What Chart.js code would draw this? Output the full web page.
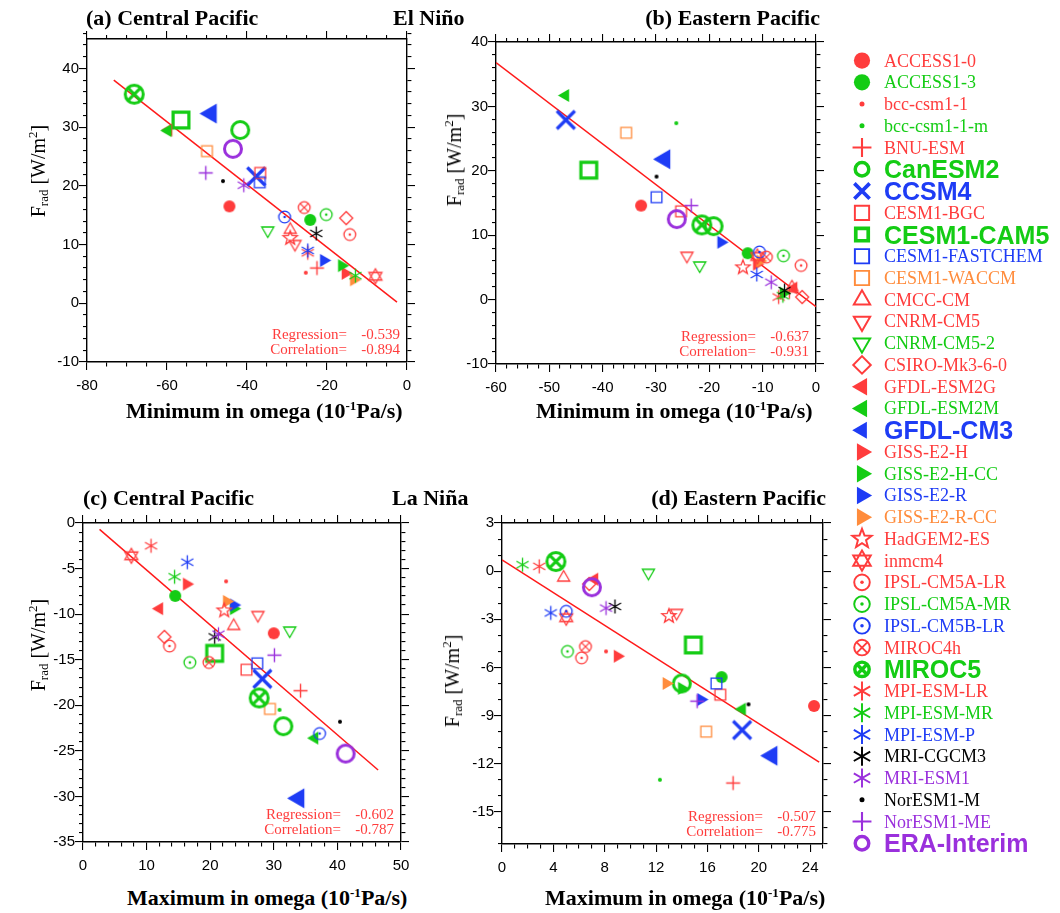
<!DOCTYPE html>
<html>
<head>
<meta charset="utf-8">
<script src="https://cdn.jsdelivr.net/npm/chart.js@4.4.1/dist/chart.umd.min.js"></script>
<style>
  body { margin: 0; background: #fff; width: 1060px; height: 913px; position: relative; overflow: hidden; }
  .panel { position: absolute; width: 420px; height: 400px; }
  .panel canvas { position: absolute; left: 0; top: 0; }
  .t { position: absolute; white-space: nowrap; line-height: 1; color: #000; font-family: "Liberation Serif", serif; }
  .ptitle { font-weight: bold; font-size: 22px; }
  .ytitle { font-size: 20px; transform: translate(-50%, -50%) rotate(-90deg); }
  .ytitle sub { font-size: 13px; vertical-align: -3px; }
  .xtitle sup, .ytitle sup { font-size: 13px; vertical-align: 8px; }
  .leg { position: absolute; left: 884px; white-space: nowrap; height: 22px; line-height: 22px; font-family: "Liberation Serif", serif; font-size: 18px; }
  .leg.big { font-family: "Liberation Sans", sans-serif; font-weight: bold; font-size: 25px; }
</style>
</head>
<body>
<div class="panel" style="left:0;top:0"><canvas id="pa" width="420" height="400"></canvas><canvas id="pa-f" width="420" height="400"></canvas></div>
<div class="panel" style="left:420px;top:0"><canvas id="pb" width="420" height="400"></canvas><canvas id="pb-f" width="420" height="400"></canvas></div>
<div class="panel" style="left:0;top:480px"><canvas id="pc" width="420" height="400"></canvas><canvas id="pc-f" width="420" height="400"></canvas></div>
<div class="panel" style="left:420px;top:480px"><canvas id="pd" width="420" height="400"></canvas><canvas id="pd-f" width="420" height="400"></canvas></div>
<canvas id="legmarks" width="60" height="913" style="position:absolute;left:832px;top:0"></canvas>
<div id="texts"></div>
<script>
// ---- data ----
const models = ["ACCESS1-0", "ACCESS1-3", "bcc-csm1-1", "bcc-csm1-1-m", "BNU-ESM", "CanESM2", "CCSM4",
  "CESM1-BGC", "CESM1-CAM5", "CESM1-FASTCHEM", "CESM1-WACCM", "CMCC-CM", "CNRM-CM5", "CNRM-CM5-2",
  "CSIRO-Mk3-6-0", "GFDL-ESM2G", "GFDL-ESM2M", "GFDL-CM3", "GISS-E2-H", "GISS-E2-H-CC", "GISS-E2-R",
  "GISS-E2-R-CC", "HadGEM2-ES", "inmcm4", "IPSL-CM5A-LR", "IPSL-CM5A-MR", "IPSL-CM5B-LR", "MIROC4h",
  "MIROC5", "MPI-ESM-LR", "MPI-ESM-MR", "MPI-ESM-P", "MRI-CGCM3", "MRI-ESM1", "NorESM1-M", "NorESM1-ME",
  "ERA-Interim"];

// (a) El Nino, Central Pacific
const aX = [-44.4, -24.2, -25.3, -24.0, -22.5, -41.7, -37.7, -36.7, -56.5, -36.8, -50.0, -29.2, -28.0, -34.8,
  -15.2, -59.6, -59.8, -49.0, -15.4, -16.3, -20.8, -13.3, -29.2, -7.9, -14.3, -20.2, -30.6, -25.7,
  -68.2, -24.8, -12.9, -24.8, -22.7, -40.8, -46.0, -50.3, -43.5];
const aY = [16.5, 14.2, 5.2, 14.4, 6.0, 29.5, 21.6, 22.2, 31.2, 20.6, 25.9, 12.5, 10.1, 12.4,
  14.5, 29.5, 29.4, 32.3, 5.1, 6.4, 7.3, 4.0, 11.1, 4.6, 11.7, 15.1, 14.7, 16.3,
  35.6, 8.6, 4.7, 9.0, 11.9, 20.1, 20.8, 22.2, 26.3];
// (b) El Nino, Eastern Pacific
const bX = [-32.8, -12.8, -10.0, -26.2, -5.0, -19.2, -46.9, -25.3, -42.6, -29.9, -35.6, -4.5, -24.2, -21.8,
  -2.6, -4.2, -47.0, -28.4, -11.1, -6.1, -17.8, -10.5, -13.7, -11.0, -2.8, -6.1, -10.6, -9.3,
  -21.4, -7.0, -6.2, -11.1, -5.9, -8.4, -29.9, -23.4, -26.1];
const bY = [14.6, 7.2, 6.3, 27.4, 1.2, 11.4, 27.9, 13.7, 20.1, 15.9, 25.9, 1.9, 6.8, 5.3,
  0.4, 1.8, 31.7, 21.8, 5.5, 1.0, 8.9, 6.0, 5.0, 6.7, 5.3, 6.8, 7.4, 6.6,
  11.6, 0.4, 0.6, 3.9, 1.4, 2.7, 19.1, 14.6, 12.5];
// (c) La Nina, Central Pacific
const cX = [30.0, 14.5, 22.5, 30.9, 34.2, 31.5, 28.2, 25.7, 20.7, 27.4, 29.4, 23.7, 27.5, 32.5,
  12.8, 12.0, 36.4, 33.9, 16.3, 23.7, 23.7, 22.6, 22.2, 7.6, 13.6, 16.8, 37.2, 19.8,
  27.7, 10.7, 14.4, 16.4, 20.7, 21.3, 40.4, 30.1, 41.3];
const cY = [-12.1, -8.0, -6.4, -20.5, -18.4, -22.3, -17.1, -16.1, -14.3, -15.4, -20.4, -11.3, -10.1, -11.8,
  -12.5, -9.4, -23.6, -30.2, -6.7, -9.4, -9.0, -8.6, -9.6, -3.6, -13.5, -15.3, -23.1, -15.3,
  -19.2, -2.5, -5.9, -4.3, -12.5, -12.2, -21.8, -14.5, -25.3];
// (d) La Nina, Eastern Pacific
const dX = [24.3, 17.1, 8.1, 12.3, 18.0, 14.0, 18.7, 17.0, 14.9, 16.7, 15.9, 4.8, 13.6, 11.4,
  6.8, 7.2, 18.7, 21.0, 9.0, 14.0, 15.5, 12.8, 13.0, 5.0, 6.2, 5.1, 5.0, 6.5,
  4.2, 2.9, 1.6, 3.8, 8.8, 8.1, 19.2, 15.2, 7.0];
const dY = [-8.4, -6.6, -5.0, -13.0, -13.2, -7.0, -9.9, -7.7, -4.6, -7.0, -10.0, -0.4, -2.6, -0.1,
  -0.8, -0.5, -8.6, -11.5, -5.3, -7.3, -8.0, -7.0, -2.8, -2.9, -5.4, -5.0, -2.5, -4.7,
  0.6, 0.3, 0.4, -2.6, -2.2, -2.3, -8.3, -8.1, -1.0];

// regression line end points
const aLineX = [-73.3, -2.5], aLineY = [38.0, 0.2];
const bLineX = [-60, 0], bLineY = [36.8, -1.1];
const cLineX = [2.6, 46.4], cLineY = [-0.7, -27.1];
const dLineX = [0, 24.7], dLineY = [0.7, -11.9];

const regression = [-0.539, -0.637, -0.602, -0.507];
const correlation = [-0.894, -0.931, -0.787, -0.775];

// tick labels
const aXTicks = [-80, -60, -40, -20, 0], aYTicks = [-10, 0, 10, 20, 30, 40];
const bXTicks = [-60, -50, -40, -30, -20, -10, 0], bYTicks = [-10, 0, 10, 20, 30, 40];
const cXTicks = [0, 10, 20, 30, 40, 50], cYTicks = [-35, -30, -25, -20, -15, -10, -5, 0];
const dXTicks = [0, 4, 8, 12, 16, 20, 24], dYTicks = [-15, -12, -9, -6, -3, 0, 3];

// ---- styles ----
const RED = '#ff3c3c', GRN = '#14cc14', BLU = '#1e3cf5', ORG = '#ff8c3c', BLK = '#000000', PUR = '#9a30dc';
const markerStyles = [
  { shape: 'fcircle', color: RED, size: 12 },
  { shape: 'fcircle', color: GRN, size: 12 },
  { shape: 'fcircle', color: RED, size: 4 },
  { shape: 'fcircle', color: GRN, size: 4 },
  { shape: 'plus', color: RED, size: 14, lw: 1.4 },
  { shape: 'circle', color: GRN, size: 20, lw: 3, big: true },
  { shape: 'x', color: BLU, size: 18, lw: 3.2, big: true },
  { shape: 'square', color: RED, size: 12, lw: 1.3 },
  { shape: 'square', color: GRN, size: 19, lw: 3.2, big: true },
  { shape: 'square', color: BLU, size: 12, lw: 1.3 },
  { shape: 'square', color: ORG, size: 12, lw: 1.3 },
  { shape: 'tup', color: RED, size: 14, lw: 1.3 },
  { shape: 'tdown', color: RED, size: 14, lw: 1.3 },
  { shape: 'tdown', color: GRN, size: 14, lw: 1.3 },
  { shape: 'diamond', color: RED, size: 13, lw: 1.3 },
  { shape: 'tleft', color: RED, size: 15 },
  { shape: 'tleft', color: GRN, size: 15 },
  { shape: 'tleft', color: BLU, size: 23, big: true },
  { shape: 'tright', color: RED, size: 15 },
  { shape: 'tright', color: GRN, size: 15 },
  { shape: 'tright', color: BLU, size: 15 },
  { shape: 'tright', color: ORG, size: 15 },
  { shape: 'star5', color: RED, size: 15, lw: 1.3 },
  { shape: 'hex', color: RED, size: 15, lw: 1.3 },
  { shape: 'cdot', color: RED, size: 13, lw: 1.3 },
  { shape: 'cdot', color: GRN, size: 13, lw: 1.3 },
  { shape: 'cdot', color: BLU, size: 13, lw: 1.3 },
  { shape: 'cx', color: RED, size: 13, lw: 1.3 },
  { shape: 'cx', color: GRN, size: 21, lw: 3, big: true },
  { shape: 'aster', color: RED, size: 14, lw: 1.3 },
  { shape: 'aster', color: GRN, size: 14, lw: 1.3 },
  { shape: 'aster', color: BLU, size: 14, lw: 1.3 },
  { shape: 'aster', color: BLK, size: 14, lw: 1.3 },
  { shape: 'aster', color: PUR, size: 14, lw: 1.3 },
  { shape: 'fcircle', color: BLK, size: 4 },
  { shape: 'plus', color: PUR, size: 14, lw: 1.4 },
  { shape: 'circle', color: PUR, size: 20, lw: 3, big: true }
];

function drawMarker(ctx, st, size, lw) {
  const r = size / 2;
  ctx.strokeStyle = st.color;
  ctx.fillStyle = st.color;
  ctx.lineWidth = lw;
  ctx.lineJoin = 'miter';
  ctx.beginPath();
  const poly = (angles, rad) => {
    angles.forEach((a, i) => {
      const px = rad * Math.cos(a * Math.PI / 180), py = rad * Math.sin(a * Math.PI / 180);
      if (i === 0) ctx.moveTo(px, py); else ctx.lineTo(px, py);
    });
    ctx.closePath();
  };
  switch (st.shape) {
    case 'fcircle': ctx.arc(0, 0, r, 0, 2 * Math.PI); ctx.fill(); break;
    case 'circle': ctx.arc(0, 0, r - lw / 2, 0, 2 * Math.PI); ctx.stroke(); break;
    case 'cdot':
      ctx.arc(0, 0, r - lw / 2, 0, 2 * Math.PI); ctx.stroke();
      ctx.beginPath(); ctx.arc(0, 0, Math.max(1.2, r * 0.2), 0, 2 * Math.PI); ctx.fill(); break;
    case 'cx': {
      const rr = r - lw / 2;
      ctx.arc(0, 0, rr, 0, 2 * Math.PI); ctx.stroke();
      ctx.beginPath();
      const k = rr * 0.707;
      ctx.moveTo(-k, -k); ctx.lineTo(k, k); ctx.moveTo(k, -k); ctx.lineTo(-k, k); ctx.stroke(); break;
    }
    case 'plus': ctx.moveTo(-r, 0); ctx.lineTo(r, 0); ctx.moveTo(0, -r); ctx.lineTo(0, r); ctx.stroke(); break;
    case 'x': ctx.moveTo(-r, -r); ctx.lineTo(r, r); ctx.moveTo(r, -r); ctx.lineTo(-r, r); ctx.stroke(); break;
    case 'square': { const h = r - lw / 2; ctx.rect(-h, -h, 2 * h, 2 * h); ctx.stroke(); break; }
    case 'tup': poly([-90, 30, 150], r); ctx.stroke(); break;
    case 'tdown': poly([90, 210, 330], r); ctx.stroke(); break;
    case 'diamond': poly([0, 90, 180, 270], r); ctx.stroke(); break;
    case 'tleft': poly([180, 300, 60], r); ctx.fill(); break;
    case 'tright': poly([0, 120, 240], r); ctx.fill(); break;
    case 'star5': {
      for (let i = 0; i < 10; i++) {
        const ang = (-90 + i * 36) * Math.PI / 180;
        const rad = i % 2 ? r * 0.42 : r;
        if (i === 0) ctx.moveTo(rad * Math.cos(ang), rad * Math.sin(ang));
        else ctx.lineTo(rad * Math.cos(ang), rad * Math.sin(ang));
      }
      ctx.closePath(); ctx.stroke(); break;
    }
    case 'hex': poly([-90, 30, 150], r); poly([90, 210, 330], r); ctx.stroke(); break;
    case 'aster':
      [90, 30, 150].forEach(ang => {
        const dx = r * Math.cos(ang * Math.PI / 180), dy = r * Math.sin(ang * Math.PI / 180);
        ctx.moveTo(-dx, -dy); ctx.lineTo(dx, dy);
      });
      ctx.stroke(); break;
  }
}

function markerCanvas(st) {
  const lw = st.lw || 1;
  const dim = Math.ceil(st.size + lw * 2 + 4);
  const cv = document.createElement('canvas');
  cv.width = dim; cv.height = dim;
  const ctx = cv.getContext('2d');
  ctx.translate(dim / 2, dim / 2);
  drawMarker(ctx, st, st.size, lw);
  return cv;
}
const markerImages = markerStyles.map(markerCanvas);

// ---- axes: box on all four sides with outward major / minor ticks ----
const tickFont = { family: 'Liberation Sans', size: 15 };
const isMajor = (list, v) => list.some(m => Math.abs(m - v) < 1e-6);
function tickList(min, max, step) {
  const n = Math.round((max - min) / step), out = [];
  for (let i = 0; i <= n; i++) out.push({ value: +(min + i * step).toFixed(6) });
  return out;
}
function axis(c, dir, pos, labels) {
  const min = dir === 'x' ? c.xmin : c.ymin, max = dir === 'x' ? c.xmax : c.ymax;
  const majors = dir === 'x' ? c.xt : c.yt;
  const step = dir === 'x' ? c.xMinor : c.yMinor;
  const reversed = pos === 'left' || pos === 'top';
  const minor = ctx => !!(ctx && ctx.tick && !isMajor(majors, ctx.tick.value));
  return {
    type: 'linear', position: pos, min, max,
    border: { display: true, color: '#000', width: 1.4 },
    grid: {
      display: true, drawOnChartArea: false, drawTicks: true, tickLength: 8,
      color: '#000', lineWidth: 1.1, tickColor: '#000', tickWidth: 1.1,
      tickBorderDash: ctx => minor(ctx) ? [4, 100] : [],
      tickBorderDashOffset: ctx => (minor(ctx) && reversed) ? -4 : 0
    },
    ticks: {
      display: labels, font: tickFont, color: '#000', padding: dir === 'x' ? 7 : 0,
      maxRotation: 0, autoSkip: false,
      callback: v => isMajor(majors, v) ? String(v) : ''
    },
    afterBuildTicks: s => { s.ticks = tickList(min, max, step); },
    afterFit: s => {
      if (dir === 'x') s.height = labels ? c.xh : 0;
      else s.width = labels ? c.yw : 0;
    }
  };
}

// fit statistics on the overlay canvas, placed from the chart's scales
function drawStats(chart, c) {
  const ctx = document.getElementById(c.id + '-f').getContext('2d');
  const x = chart.scales.x, y = chart.scales.y;
  const R0 = x.getPixelForValue(c.xmax), B0 = y.getPixelForValue(c.ymin);
  ctx.fillStyle = RED;
  ctx.font = '15px "Liberation Serif"';
  ctx.textAlign = 'right';
  ctx.fillText('Regression=', R0 - 60, B0 - 23);
  ctx.fillText(c.reg.toFixed(3), R0 - 7, B0 - 23);
  ctx.fillText('Correlation=', R0 - 60, B0 - 8);
  ctx.fillText(c.cor.toFixed(3), R0 - 7, B0 - 8);
}

function makePanel(id, c) {
  c.id = id;
  const datasets = models.map((m, i) => ({
    label: m,
    data: [{ x: c.xs[i], y: c.ys[i] }],
    pointStyle: markerImages[i],
    pointRadius: markerStyles[i].size / 2,
    order: models.length - i,
    clip: false
  }));
  datasets.push({
    type: 'line',
    label: 'fit',
    data: c.lx.map((v, i) => ({ x: v, y: c.ly[i] })),
    borderColor: '#ff1a1a',
    borderWidth: 1.5,
    pointRadius: 0,
    fill: false,
    order: 100
  });
  const chart = new Chart(document.getElementById(id), {
    type: 'scatter',
    data: { datasets },
    options: {
      responsive: false,
      animation: false,
      devicePixelRatio: 1,
      events: [],
      layout: { padding: { left: 0, top: c.top, right: c.right, bottom: 0 } },
      plugins: { legend: { display: false }, tooltip: { enabled: false } },
      scales: {
        x: axis(c, 'x', 'bottom', true),
        y: axis(c, 'y', 'left', true),
        x2: axis(c, 'x', 'top', false),
        y2: axis(c, 'y', 'right', false)
      }
    }
  });
  drawStats(chart, c);
  return chart;
}

makePanel('pa', { xs: aX, ys: aY, lx: aLineX, ly: aLineY, xt: aXTicks, yt: aYTicks, xmin: -80, xmax: 0, ymin: -10, ymax: 45,
  xMinor: 5, yMinor: 2, reg: regression[0], cor: correlation[0], top: 39, right: 13, xh: 38, yw: 87 });
makePanel('pb', { xs: bX, ys: bY, lx: bLineX, ly: bLineY, xt: bXTicks, yt: bYTicks, xmin: -60, xmax: 0, ymin: -10, ymax: 40,
  xMinor: 2, yMinor: 2, reg: regression[1], cor: correlation[1], top: 42, right: 24, xh: 36, yw: 76 });
makePanel('pc', { xs: cX, ys: cY, lx: cLineX, ly: cLineY, xt: cXTicks, yt: cYTicks, xmin: 0, xmax: 50, ymin: -35, ymax: 0,
  xMinor: 2, yMinor: 1, reg: regression[2], cor: correlation[2], top: 43, right: 19, xh: 38, yw: 83 });
makePanel('pd', { xs: dX, ys: dY, lx: dLineX, ly: dLineY, xt: dXTicks, yt: dYTicks, xmin: 0, xmax: 25, ymin: -17, ymax: 3,
  xMinor: 1, yMinor: 1, reg: regression[3], cor: correlation[3], top: 43, right: 17, xh: 36, yw: 82 });

// ---- titles and legend ----
const texts = document.getElementById('texts');
function addText(html, cls, style) {
  const d = document.createElement('div');
  d.className = 't ' + cls;
  d.innerHTML = html;
  Object.assign(d.style, style);
  texts.appendChild(d);
}
addText('(a) Central Pacific', 'ptitle', { left: '86px', top: '7px' });
addText('El Niño', 'ptitle', { left: '393px', top: '7px' });
addText('(b) Eastern Pacific', 'ptitle', { right: '240px', top: '7px' });
addText('(c) Central Pacific', 'ptitle', { left: '83px', top: '487px' });
addText('La Niña', 'ptitle', { left: '392px', top: '487px' });
addText('(d) Eastern Pacific', 'ptitle', { right: '234px', top: '487px' });
const xTitleMin = 'Minimum in omega (10<sup>-1</sup>Pa/s)';
const xTitleMax = 'Maximum in omega (10<sup>-1</sup>Pa/s)';
addText(xTitleMin, 'ptitle xtitle', { left: '126px', top: '399px' });
addText(xTitleMin, 'ptitle xtitle', { left: '536px', top: '399px' });
addText(xTitleMax, 'ptitle xtitle', { left: '127px', top: '886px' });
addText(xTitleMax, 'ptitle xtitle', { left: '545px', top: '886px' });
const yTitle = 'F<sub>rad</sub> [W/m<sup>2</sup>]';
addText(yTitle, 'ytitle', { left: '38px', top: '171px' });
addText(yTitle, 'ytitle', { left: '454px', top: '160px' });
addText(yTitle, 'ytitle', { left: '38px', top: '645px' });
addText(yTitle, 'ytitle', { left: '452px', top: '681px' });

const legCtx = document.getElementById('legmarks').getContext('2d');
const legY0 = 60.6, legStep = 21.74;
models.forEach((m, i) => {
  const st = markerStyles[i];
  const cy = legY0 + i * legStep;
  legCtx.save();
  legCtx.translate(30, cy);
  let s, lw;
  if (st.big) { s = st.size * 0.85; lw = (st.lw || 1) * 1.15; }
  else if (st.size <= 4) { s = 5; lw = 1; }
  else { s = st.size * 1.35; lw = (st.lw || 1) * 1.5; }
  drawMarker(legCtx, st, s, lw);
  legCtx.restore();
  const d = document.createElement('div');
  d.className = 'leg' + (st.big ? ' big' : '');
  d.textContent = m;
  d.style.color = st.color;
  d.style.top = (cy - 11) + 'px';
  texts.appendChild(d);
});
</script>
</body>
</html>
